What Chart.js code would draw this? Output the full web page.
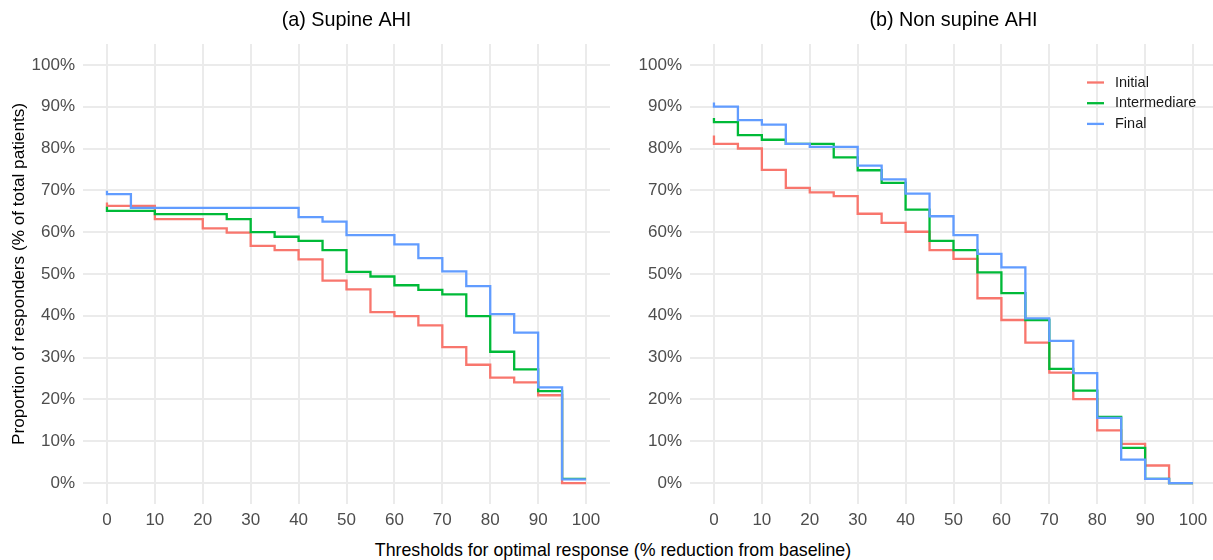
<!DOCTYPE html>
<html>
<head>
<meta charset="utf-8">
<script src="https://cdn.jsdelivr.net/npm/chart.js@4.4.1/dist/chart.umd.min.js"></script>
<style>
  html, body { margin: 0; padding: 0; background: #ffffff; overflow: hidden; width: 1213px; height: 560px; }
  #wrap { position: relative; width: 1213px; height: 560px; overflow: hidden; }
  #cA { position: absolute; left: 0px; top: 0px; }
  #cB { position: absolute; left: 606px; top: 0px; }
  #xtitle { position: absolute; left: 0; width: 1226px; top: 540px; text-align: center;
            font-family: "Liberation Sans", Arial, sans-serif; font-size: 17.8px; line-height: 20px; color: #000; }
</style>
</head>
<body>
<div id="wrap">
  <canvas id="cA" width="620" height="530"></canvas>
  <canvas id="cB" width="621" height="530"></canvas>
  <div id="xtitle">Thresholds for optimal response (% reduction from baseline)</div>
</div>
<script>
// Thresholds (% reduction from baseline). The first entry repeats 0: the line starts at the
// value for "any reduction" and drops at 0 to the value for "more than 0".
const thresholds = [0, 0, 5, 10, 15, 20, 25, 30, 35, 40, 45, 50, 55, 60, 65, 70, 75, 80, 85, 90, 95, 100];

// (a) Supine AHI — proportion of responders (%)
const supineInitial      = [67.1, 66.3, 66.3, 63.1, 63.1, 60.9, 59.9, 56.7, 55.7, 53.5, 48.4, 46.3, 40.9, 39.9, 37.7, 32.5, 28.3, 25.2, 24.1, 21.0, 0.0, 0.0];
const supineIntermediare = [66.1, 65.1, 65.1, 64.3, 64.3, 64.3, 63.1, 60.0, 58.9, 57.9, 55.7, 50.5, 49.4, 47.3, 46.2, 45.1, 39.9, 31.4, 27.2, 22.0, 1.0, 1.0];
const supineFinal        = [69.9, 69.1, 65.8, 65.8, 65.8, 65.8, 65.8, 65.8, 65.8, 63.6, 62.5, 59.3, 59.3, 57.1, 53.8, 50.6, 47.1, 40.4, 36.0, 22.9, 0.9, 0.9];

// (b) Non supine AHI — proportion of responders (%)
const nonSupineInitial      = [83.1, 81.1, 80.0, 74.9, 70.6, 69.5, 68.6, 64.4, 62.2, 60.1, 55.7, 53.6, 44.2, 39.0, 33.6, 26.4, 20.1, 12.6, 9.4, 4.2, 0.0, 0.0];
const nonSupineIntermediare = [87.3, 86.3, 83.2, 82.1, 81.1, 81.1, 77.9, 74.8, 71.8, 65.4, 57.9, 55.7, 50.4, 45.4, 39.0, 27.3, 22.1, 15.8, 8.4, 1.0, 0.0, 0.0];
const nonSupineFinal        = [91.0, 90.0, 86.8, 85.7, 81.1, 80.4, 80.4, 75.9, 72.6, 69.2, 63.8, 59.3, 54.8, 51.6, 39.4, 34.0, 26.3, 15.6, 5.6, 1.0, 0.0, 0.0];

const seriesNames = ['Initial', 'Intermediare', 'Final'];
const xTicks = [0, 10, 20, 30, 40, 50, 60, 70, 80, 90, 100];
const yTicks = [0, 10, 20, 30, 40, 50, 60, 70, 80, 90, 100];
const panelTitles = ['(a) Supine AHI', '(b) Non supine AHI'];
const yAxisTitle = 'Proportion of responders (% of total patients)';

const colors = ['#F8766D', '#00BA38', '#619CFF'];
const FONT = '"Liberation Sans", Arial, Helvetica, sans-serif';
Chart.defaults.font.family = FONT;

function toPoints(values) {
  return values.map((v, i) => ({ x: thresholds[i], y: v }));
}

function makeDatasets(arrs) {
  return arrs.map((arr, i) => ({
    label: seriesNames[i],
    data: toPoints(arr),
    borderColor: colors[i],
    backgroundColor: colors[i],
    borderWidth: 2.3,
    pointRadius: 0,
    pointHoverRadius: 0,
    stepped: 'before',
    tension: 0,
    fill: false,
    order: 2 - i
  }));
}

const insideLegend = {
  id: 'insideLegend',
  afterDraw(chart, args, opts) {
    if (!opts || !opts.show) return;
    const ctx = chart.ctx;
    ctx.save();
    ctx.font = '14.5px ' + FONT;
    ctx.textBaseline = 'middle';
    ctx.textAlign = 'left';
    seriesNames.forEach((name, i) => {
      const y = opts.y0 + i * opts.dy;
      ctx.strokeStyle = colors[i];
      ctx.lineWidth = 2.3;
      ctx.beginPath();
      ctx.moveTo(opts.x0, y);
      ctx.lineTo(opts.x0 + 17, y);
      ctx.stroke();
      ctx.fillStyle = '#1A1A1A';
      ctx.fillText(name, opts.x0 + 28, y);
    });
    ctx.restore();
  }
};

function makeChart(canvasId, arrs, title, showYTitle, yWidth, showLegend) {
  return new Chart(document.getElementById(canvasId), {
    type: 'line',
    data: { datasets: makeDatasets(arrs) },
    plugins: [insideLegend],
    options: {
      responsive: false,
      animation: false,
      devicePixelRatio: 1,
      layout: { padding: { left: 0, right: 10, top: 0, bottom: 0 } },
      plugins: {
        legend: { display: false },
        tooltip: { enabled: false },
        title: {
          display: true,
          text: title,
          fullSize: false,
          color: '#000000',
          font: { size: 19.8, weight: 'normal' },
          padding: { top: 9, bottom: 11.2 }
        },
        insideLegend: { show: showLegend, x0: 481, y0: 82.5, dy: 20.7 }
      },
      scales: {
        x: {
          type: 'linear',
          min: -5,
          max: 105,
          afterBuildTicks: (s) => { s.ticks = xTicks.map(v => ({ value: v })); },
          afterFit: (s) => { s.height = 26; },
          ticks: { color: '#4D4D4D', font: { size: 17 }, padding: 6, maxRotation: 0, autoSkip: false,
                   callback: (v) => String(v) },
          grid: { color: '#EBEBEB', lineWidth: 2, drawTicks: false },
          border: { display: false }
        },
        y: {
          type: 'linear',
          min: -5,
          max: 105,
          afterBuildTicks: (s) => { s.ticks = yTicks.map(v => ({ value: v })); },
          afterFit: (s) => { s.width = yWidth; },
          ticks: { color: '#4D4D4D', font: { size: 17 }, padding: 8, autoSkip: false,
                   callback: (v) => v + '%' },
          grid: { color: '#EBEBEB', lineWidth: 2, drawTicks: false },
          border: { display: false },
          title: {
            display: showYTitle,
            text: yAxisTitle,
            color: '#000000',
            font: { size: 17.2, weight: 'normal' },
            padding: { top: 9, bottom: 0 }
          }
        }
      }
    }
  });
}

makeChart('cA', [supineInitial, supineIntermediare, supineFinal], panelTitles[0], true, 83, false);
makeChart('cB', [nonSupineInitial, nonSupineIntermediare, nonSupineFinal], panelTitles[1], false, 84, true);
</script>
</body>
</html>
